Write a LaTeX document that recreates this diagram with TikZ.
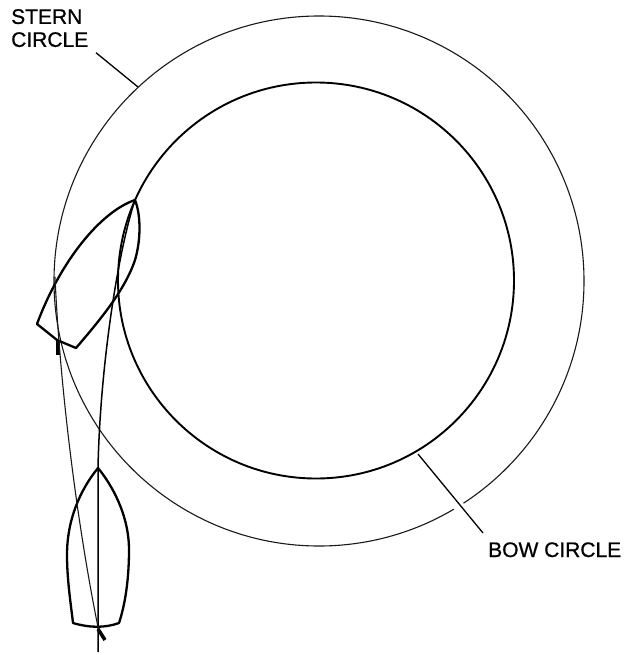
\documentclass[tikz,border=0pt]{standalone}
\usepackage{fontspec}
\newfontfamily\lblfont[FakeBold=0.8]{Liberation Sans}
\tikzset{
  thinln/.style={line width=1.1pt,black!90},
  medln/.style={line width=1.9pt},
  leader/.style={line width=1.3pt},
  keel/.style={line width=1.5pt},
  hull/.style={line width=2.3pt,line join=round},
  lbl/.style={font=\lblfont\fontsize{21}{23}\selectfont,inner sep=0pt,align=left},
}
\begin{document}
\begin{tikzpicture}[x=1pt,y=-1pt]
\useasboundingbox (0,0) rectangle (626,655);
% circles
\node[circle,draw,thinln,minimum size=530pt,inner sep=0pt] (stern) at (319,281) {};
\node[circle,draw,medln,minimum size=396pt,inner sep=0pt] (bow) at (316,280.5) {};
% labels
\node[lbl,anchor=north west] (sl) at (11,9) {STERN\\CIRCLE};
\node[lbl,anchor=base west] (bl) at (488,557) {BOW CIRCLE};
\coordinate (s1) at (96,52.7); \coordinate (s2) at (138,87);
\coordinate (b1) at (418,454); \coordinate (b2) at (483,533);
\coordinate (g1) at (450,496); \coordinate (g2) at (466,515);
\draw[leader] (s1) -- (s2);
\draw[white,line width=11pt] (g1) -- (g2);
\draw[leader] (b1) -- (b2);
% upper boat
\coordinate (A) at (135,200);
\draw[hull] (A) .. controls (100,212) and (60,262) .. (37,324)
  -- (57,340) -- (76,348)
  .. controls (100,320) and (125,290) .. (135,260)
  .. controls (141,240) and (141,215) .. (A) -- cycle;
\draw[line width=4pt] (57.5,340) -- (57.5,355);
% lower boat
\coordinate (B) at (98,468);
\draw[hull] (B) .. controls (80,490) and (67,520) .. (67,555)
  .. controls (67,580) and (71,605) .. (73,623)
  .. controls (90,628) and (105,628) .. (119,623)
  .. controls (125,605) and (129,580) .. (129,550)
  .. controls (129,515) and (112,485) .. (B) -- cycle;
\draw[line width=3.5pt] (98,629) -- (105,640);
% keel and stern lines
\draw[keel] (A) .. controls (117,255) and (100,370) .. (B) -- (98,652);
\draw[thinln] (55,277) .. controls (60,390) and (78,530) .. (99,632);
\end{tikzpicture}
\end{document}
